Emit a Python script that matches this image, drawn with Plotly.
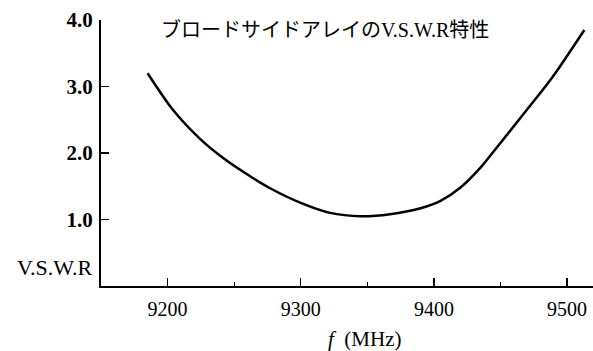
import plotly.graph_objects as go

freq_mhz = [9185, 9204, 9224, 9242, 9262, 9277, 9300, 9322, 9345, 9367, 9390, 9405, 9420, 9435, 9442, 9467, 9489, 9513]
vswr = [3.20, 2.65, 2.22, 1.92, 1.65, 1.47, 1.25, 1.10, 1.05, 1.08, 1.17, 1.28, 1.48, 1.78, 1.95, 2.58, 3.14, 3.85]

x_ticks = [9200, 9300, 9400, 9500]
y_ticks = [1.0, 2.0, 3.0, 4.0]
y_tick_labels = ["1.0", "2.0", "3.0", "4.0"]

title_text = "ブロードサイドアレイのV.S.W.R特性"
y_label = "V.S.W.R"
x_label = "<i>f</i>  (MHz)"

SERIF = "Liberation Serif, Noto Sans CJK JP, serif"

fig = go.Figure()
fig.add_trace(go.Scatter(
    x=freq_mhz, y=vswr, mode="lines",
    line=dict(color="black", width=2.5, shape="spline", smoothing=0.8),
    showlegend=False, hoverinfo="skip",
))

fig.update_layout(
    width=593, height=351,
    margin=dict(l=101, r=0, t=20, b=65),
    paper_bgcolor="white", plot_bgcolor="white",
    font=dict(family=SERIF, color="black"),
    xaxis=dict(
        range=[9150, 9519.5], tickvals=x_ticks, ticktext=[str(v) for v in x_ticks],
        ticks="inside", ticklen=8, tickwidth=1.5, tickcolor="black",
        showline=True, linewidth=2, linecolor="black",
        showgrid=False, zeroline=False,
        tickfont=dict(family=SERIF, size=20, color="black"),
        ticklabelstandoff=4,
        minor=dict(tickvals=[9250, 9350, 9450], ticks="inside", ticklen=4, tickwidth=1.2, tickcolor="black", showgrid=False),
    ),
    yaxis=dict(
        range=[0, 4.0], tickvals=y_ticks, ticktext=y_tick_labels,
        ticks="inside", ticklen=8, tickwidth=1.5, tickcolor="black",
        showline=True, linewidth=2, linecolor="black",
        showgrid=False, zeroline=False,
        tickfont=dict(family=SERIF, size=21, color="black", weight="bold"),
        ticklabelstandoff=2,
    ),
    annotations=[
        dict(text=title_text, xref="paper", yref="paper", x=0.118, y=0.966,
             xanchor="left", yanchor="middle", showarrow=False,
             font=dict(family=SERIF, size=20, color="black")),
        dict(text=y_label, xref="paper", yref="paper", x=-0.012, y=0.068,
             xanchor="right", yanchor="middle", showarrow=False,
             font=dict(family=SERIF, size=22, color="black")),
        dict(text=x_label, xref="paper", yref="paper", x=0.537, y=-0.199,
             xanchor="center", yanchor="middle", showarrow=False,
             font=dict(family=SERIF, size=21, color="black")),
    ],
)

fig.write_html("out.html", config={"displayModeBar": False, "staticPlot": True},
               post_script="document.body.style.margin='0';document.body.style.overflow='hidden';")
